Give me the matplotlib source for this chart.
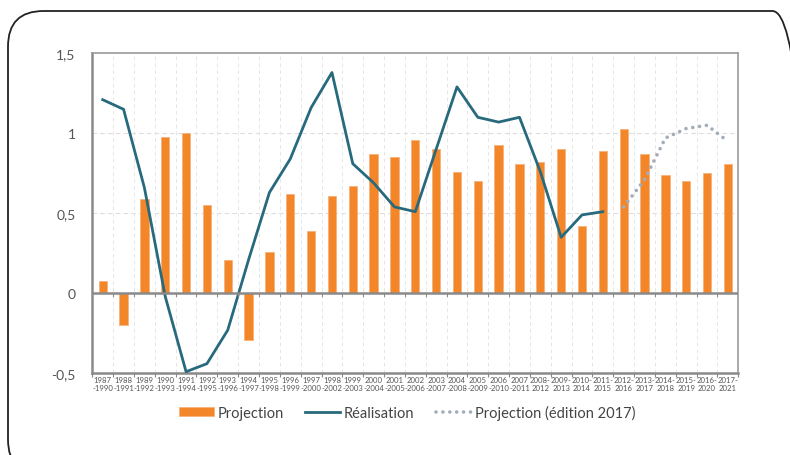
import numpy as np
import matplotlib.pyplot as plt
from matplotlib.patches import FancyBboxPatch

plt.rcParams['font.family'] = ['Lato', 'DejaVu Sans']

start_years = list(range(1987, 2018))
end_years = [1990, 1991, 1992, 1993, 1994, 1995, 1996, 1997, 1998, 1999,
             2000, 2002, 2003, 2004, 2005, 2006, 2007, 2008, 2009, 2010,
             2011, 2012, 2013, 2014, 2015, 2016, 2017, 2018, 2019, 2020, 2021]
projection = [0.08, -0.20, 0.59, 0.98, 1.00, 0.55, 0.21, -0.29, 0.26, 0.62,
              0.39, 0.61, 0.67, 0.87, 0.85, 0.96, 0.90, 0.76, 0.70, 0.93,
              0.81, 0.82, 0.90, 0.42, 0.89, 1.03, 0.87, 0.74, 0.70, 0.75, 0.81]
realisation = [1.21, 1.15, 0.66, -0.02, -0.49, -0.44, -0.23, 0.21, 0.63, 0.84,
               1.16, 1.38, 0.81, 0.69, 0.54, 0.51, 0.90, 1.29, 1.10, 1.07,
               1.10, 0.76, 0.35, 0.49, 0.51]
proj2017_start = 25
proj2017 = [0.54, 0.71, 0.97, 1.03, 1.05, 0.95]

labels = []
for s, e in zip(start_years, end_years):
    if s <= 2007:
        labels.append(f"{s}\n-{e}")
    else:
        labels.append(f"{s}-\n{e}")

fig = plt.figure(figsize=(7.9, 4.56), dpi=100)
ax = fig.add_axes([92.3 / 790, 1 - 374.3 / 456, 646 / 790, 320 / 456])

n = len(projection)
x = np.arange(n) + 0.5
bars = ax.bar(x, projection, width=0.4, color='#F4862A', edgecolor='#F8B27A',
              linewidth=0.6, zorder=2, label='Projection')
line, = ax.plot(x[:len(realisation)], realisation, color='#276A7E', lw=2,
                zorder=3, label='Réalisation')
xp = x[proj2017_start:proj2017_start + len(proj2017)]
dots, = ax.plot(xp, proj2017, color='#A3ACB9', lw=2.6, ls=(0, (0.01, 1.9)),
                dash_capstyle='round', zorder=3,
                label='Projection (édition 2017)')

ax.set_xlim(0, n)
ax.set_ylim(-0.5, 1.5)
ax.set_yticks([-0.5, 0, 0.5, 1, 1.5])
ax.set_yticklabels(['-0,5', '0', '0,5', '1', '1,5'], fontsize=10, color='#555555')
ax.tick_params(axis='y', length=0, pad=12)

ax.set_xticks(np.arange(n + 1), minor=False)
ax.set_xticklabels([])
ax.set_xticks(x, minor=True)
ax.set_xticklabels(labels, minor=True, fontsize=5.6, color='#555555',
                   linespacing=1.1)
ax.tick_params(axis='x', which='minor', length=0, pad=2)
ax.tick_params(axis='x', which='major', length=3, color='#888888', width=0.8)

for v in [0.5, 1.0]:
    ax.axhline(v, color='#DDDDDD', lw=0.8, ls=(0, (4, 3)), zorder=1)
for v in range(1, n):
    ax.axvline(v, color='#E6E6E6', lw=0.7, ls=(0, (4, 3)), zorder=1)
ax.axhline(0, color='#8A8A8A', lw=1.8, zorder=4)
for v in range(1, n):
    ax.plot([v, v], [0, -0.015], color='#8A8A8A', lw=0.8, zorder=4,
            clip_on=False)

for side in ['top', 'right']:
    ax.spines[side].set_color('#9A9A9A')
    ax.spines[side].set_linewidth(1.2)
for side in ['left', 'bottom']:
    ax.spines[side].set_color('#8A8A8A')
    ax.spines[side].set_linewidth(1.8)

fig.legend([bars, line, dots],
           ['Projection', 'Réalisation', 'Projection (édition 2017)'],
           loc='center', bbox_to_anchor=(407 / 790, 1 - 413 / 456),
           ncol=3, frameon=False, fontsize=10.5, handlelength=2.4,
           handleheight=0.5, handletextpad=0.25, columnspacing=1.5,
           labelcolor='#444444')

frame = FancyBboxPatch((8 / 790, -20 / 456), 800 / 790, (456 - 12 + 20) / 456,
                       boxstyle='round,pad=0,rounding_size=0.045',
                       transform=fig.transFigure, fill=False,
                       edgecolor='#222222', lw=1.3, mutation_aspect=790 / 456)
fig.patches.append(frame)

fig.savefig('out.png', dpi=100)
